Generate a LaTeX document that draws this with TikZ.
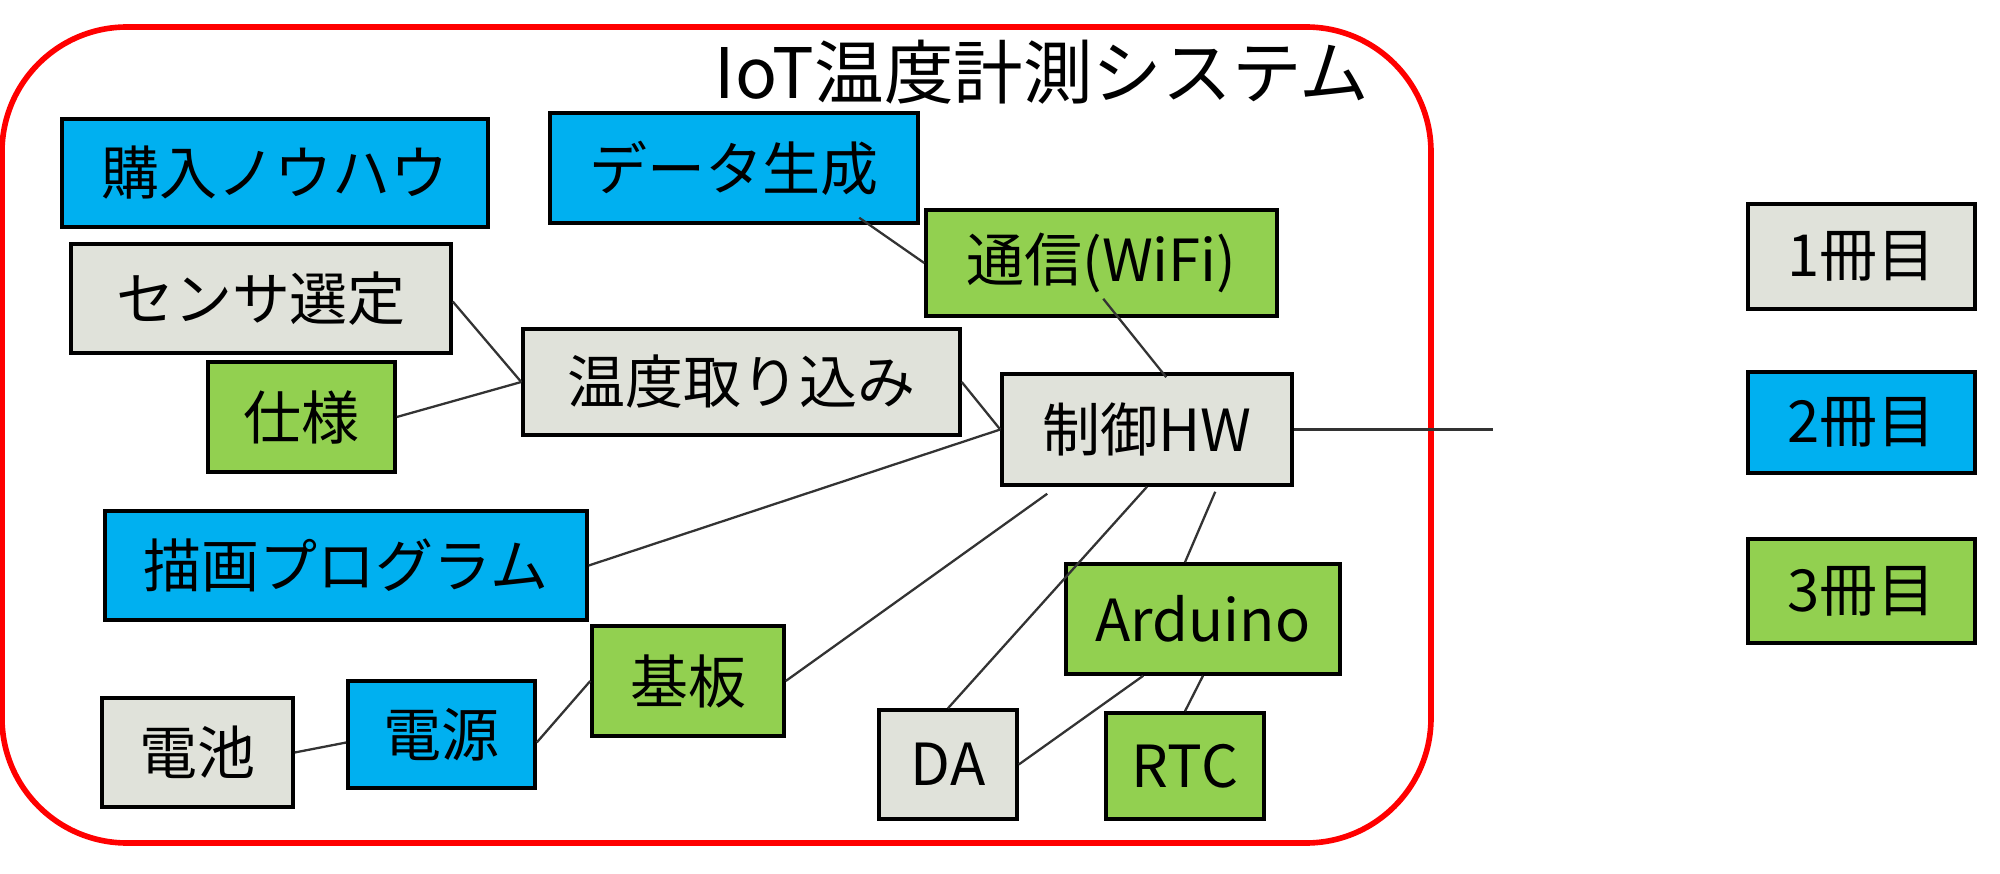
\documentclass[tikz,border=0pt]{standalone}
\usepackage{fontspec}
\setmainfont{Noto Sans CJK JP}
\definecolor{cblue}{HTML}{00B0F0}
\definecolor{cgreen}{HTML}{92D050}
\definecolor{cgray}{HTML}{E0E2DA}
\definecolor{cline}{HTML}{333333}
\definecolor{cred}{HTML}{FF0000}
\tikzset{
  box/.style={draw=black, line width=1pt, inner sep=0pt, font=\fontsize{16.5}{18}\selectfont},
  bbox/.style={box, fill=cblue},
  gbox/.style={box, fill=cgreen},
  ybox/.style={box, fill=cgray},
  conn/.style={draw=cline, line width=0.65pt},
}
\begin{document}
\begin{tikzpicture}[x=0.1mm, y=-0.1mm]
\useasboundingbox (0,0) rectangle (2000,874);
% frame
\draw[cred, line width=1.6pt, rounded corners=12.5mm] (2,27) rectangle (1431,843);
\node[anchor=base west, font=\fontsize{19.8}{22}\selectfont, inner sep=0pt] (title) at (714,99) {IoT温度計測システム};
% boxes
\node[bbox, minimum width=42.6mm, minimum height=10.8mm] (kounyu) at (275,173) {購入ノウハウ};
\node[bbox, minimum width=36.8mm, minimum height=11.0mm] (datagen) at (734,168) {データ生成};
\node[ybox, minimum width=38.0mm, minimum height=10.9mm] (sensor) at (261,298.5) {センサ選定};
\node[gbox, minimum width=18.7mm, minimum height=11.0mm] (shiyou) at (301.5,417) {仕様};
\node[ybox, minimum width=43.7mm, minimum height=10.6mm] (ondo) at (741.5,382) {温度取り込み};
\node[gbox, minimum width=35.1mm, minimum height=10.6mm] (tsushin) at (1101.5,263) {通信(WiFi)};
\node[ybox, minimum width=29.0mm, minimum height=11.1mm] (hw) at (1147,429.5) {制御HW};
\node[bbox, minimum width=48.2mm, minimum height=10.9mm] (byouga) at (346,565.5) {描画プログラム};
\node[gbox, minimum width=19.2mm, minimum height=11.0mm] (kiban) at (688,681) {基板};
\node[bbox, minimum width=18.7mm, minimum height=10.7mm] (dengen) at (441.5,734.5) {電源};
\node[ybox, minimum width=19.1mm, minimum height=10.9mm] (denchi) at (197.5,752.5) {電池};
\node[ybox, minimum width=13.8mm, minimum height=10.9mm] (da) at (948,764.5) {DA};
\node[gbox, minimum width=27.4mm, minimum height=11.0mm] (arduino) at (1203,619) {Arduino};
\node[gbox, minimum width=15.8mm, minimum height=10.6mm] (rtc) at (1185,766) {RTC};
% legend
\node[ybox, minimum width=22.7mm, minimum height=10.5mm] (b1) at (1861.5,256.5) {1冊目};
\node[bbox, minimum width=22.7mm, minimum height=10.1mm] (b2) at (1861.5,422.5) {2冊目};
\node[gbox, minimum width=22.7mm, minimum height=10.4mm] (b3) at (1861.5,591) {3冊目};
% connectors
\coordinate (hwout) at (1493,429.5);
\draw[conn] ([xshift=31.1mm,yshift=0.7mm]datagen.south west) -- (tsushin.west);
\draw[conn] ([yshift=-0.3mm]sensor.east) -- (ondo.west);
\draw[conn] (shiyou.east) -- (ondo.west);
\draw[conn] (ondo.east) -- (hw.west);
\draw[conn] (byouga.east) -- (hw.west);
\draw[conn] (kiban.east) -- ([xshift=4.7mm,yshift=-0.7mm]hw.south west);
\draw[conn] (da.north) -- (hw.south);
\draw[conn] ([xshift=-1.8mm]arduino.north) -- ([xshift=21.5mm,yshift=-0.5mm]hw.south west);
\draw[conn] ([xshift=17.9mm,yshift=1.9mm]tsushin.south west) -- ([xshift=16.6mm,yshift=-0.5mm]hw.north west);
\draw[conn] ([xshift=7.9mm]arduino.south west) -- (da.east);
\draw[conn] (arduino.south) -- (rtc.north);
\draw[conn] (denchi.east) -- ([yshift=-0.8mm]dengen.west);
\draw[conn] ([yshift=-0.8mm]dengen.east) -- (kiban.west);
\draw[conn] (hw.east) -- (hwout);
\end{tikzpicture}
\end{document}
